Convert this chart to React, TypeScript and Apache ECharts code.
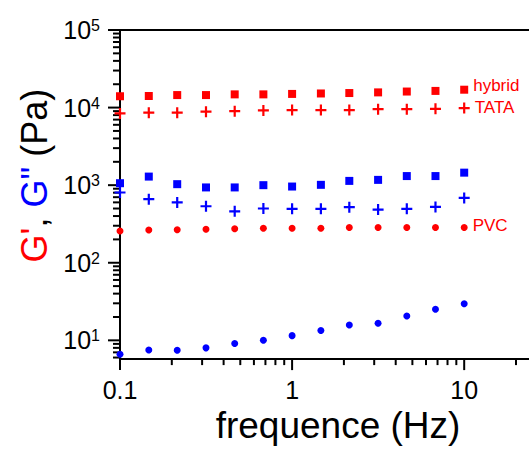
import React, { useEffect, useRef } from "react";
import * as echarts from "echarts";

const freq = [0.1, 0.147, 0.215, 0.316, 0.464, 0.681, 1, 1.47, 2.15, 3.16, 4.64, 6.81, 10];
const hybridG1 = [14000, 14100, 14500, 14500, 14800, 14800, 15000, 15200, 15400, 15700, 16100, 16400, 17000];
const tataG1 = [8400, 8600, 8600, 8850, 9000, 9200, 9300, 9300, 9300, 9550, 9550, 9650, 9850];
const pvcG1 = [257, 265, 267, 270, 275, 278, 278, 278, 285, 285, 285, 285, 285];
const hybridG2 = [1060, 1290, 1030, 935, 935, 1000, 960, 1010, 1135, 1170, 1310, 1310, 1450];
const tataG2 = [805, 660, 600, 535, 460, 500, 495, 495, 520, 485, 495, 525, 685];
const pvcG2 = [6.6, 7.5, 7.45, 8.0, 9.1, 10, 11.5, 13.4, 15.8, 16.6, 20.6, 25.1, 29.6];

const X_MIN = 0.1;
const X_MAX = 23.8;
const Y_MIN = 5.73;
const Y_MAX = 100000;

const xMajorTicks = [0.1, 1, 10];
const xMinorTicks = [0.2, 0.3, 0.4, 0.5, 0.6, 0.7, 0.8, 0.9, 2, 3, 4, 5, 6, 7, 8, 9, 20];
const yMajorTicks = [10, 100, 1000, 10000, 100000];
const yMinorTicks = [
  6, 7, 8, 9,
  20, 30, 40, 50, 60, 70, 80, 90,
  200, 300, 400, 500, 600, 700, 800, 900,
  2000, 3000, 4000, 5000, 6000, 7000, 8000, 9000,
  20000, 30000, 40000, 50000, 60000, 70000, 80000, 90000,
];

const FONT = "Liberation Sans, Arial, sans-serif";
const RED = "#ff0000";
const BLUE = "#0000ff";
const PLUS = "path://M4,0h2v4h4v2h-4v4h-2v-4h-4v-2h4z";

function pairs(ys: number[]) {
  return freq.map((f, i) => [f, ys[i]]);
}

function withEndLabel(ys: number[], text: string, dy: number) {
  const d: any[] = pairs(ys);
  const last = d.length - 1;
  d[last] = {
    value: d[last],
    label: {
      show: true,
      position: "right",
      distance: 5,
      offset: [0, dy],
      formatter: text,
      color: RED,
      fontSize: 17,
      fontFamily: FONT,
    },
  };
  return d;
}

function isPow10(v: number) {
  const l = Math.log10(v);
  return Math.abs(l - Math.round(l)) < 1e-6;
}

export default function App() {
  const ref = useRef<HTMLDivElement>(null);
  useEffect(() => {
    if (!ref.current) return;
    const chart = echarts.init(ref.current, undefined, { renderer: "svg" });
    const tickStyle = { stroke: "#000", lineWidth: 2 };
    const scatterBase = (name: string, symbol: string, size: number, color: string, data: any[]) => ({
      name,
      type: "scatter",
      symbol,
      symbolSize: size,
      itemStyle: { color, opacity: 1 },
      emphasis: { disabled: true },
      data,
    });
    chart.setOption({
      animation: false,
      backgroundColor: "#fff",
      grid: { left: 120, right: 0, top: 30, bottom: 86, containLabel: false },
      xAxis: [
        {
          type: "log",
          logBase: 10,
          min: X_MIN,
          max: X_MAX,
          position: "bottom",
          axisLine: { show: true, onZero: false, lineStyle: { color: "#000", width: 2 } },
          axisTick: { show: false },
          splitLine: { show: false },
          axisLabel: {
            color: "#000",
            fontSize: 25,
            fontFamily: FONT,
            margin: 18,
            showMinLabel: true,
            showMaxLabel: false,
            formatter: (v: number) => (isPow10(v) ? String(Number(v.toPrecision(6))) : ""),
          },
          name: "frequence (Hz)",
          nameLocation: "middle",
          nameGap: 47,
          nameTextStyle: { color: "#000", fontSize: 37, fontFamily: FONT, padding: [0, 0, 0, 27] },
        },
        {
          type: "log",
          logBase: 10,
          min: X_MIN,
          max: X_MAX,
          position: "top",
          axisLine: { show: true, onZero: false, lineStyle: { color: "#000", width: 2 } },
          axisTick: { show: false },
          axisLabel: { show: false },
          splitLine: { show: false },
        },
      ],
      yAxis: {
        type: "log",
        logBase: 10,
        min: Y_MIN,
        max: Y_MAX,
        axisLine: { show: true, onZero: false, lineStyle: { color: "#000", width: 2 } },
        axisTick: { show: false },
        splitLine: { show: false },
        axisLabel: {
          margin: 20,
          showMinLabel: false,
          formatter: (v: number) => (isPow10(v) ? `{b|10}{s|${Math.round(Math.log10(v))}}` : ""),
          rich: {
            b: { fontSize: 25, lineHeight: 25, fontFamily: FONT, color: "#000", verticalAlign: "bottom" },
            s: { fontSize: 16, lineHeight: 16, fontFamily: FONT, color: "#000", verticalAlign: "top" },
          },
        },
        name: "{r|G'}{k|, }{b|G\"}{k| (Pa)}",
        nameLocation: "middle",
        nameRotate: 90,
        nameGap: 62,
        nameTextStyle: {
          padding: [0, 0, 0, 38],
          rich: {
            r: { color: RED, fontSize: 36, fontFamily: FONT },
            b: { color: BLUE, fontSize: 36, fontFamily: FONT },
            k: { color: "#000", fontSize: 36, fontFamily: FONT },
          },
        },
      },
      series: [
        scatterBase("hybrid G'", "rect", 8, RED, withEndLabel(hybridG1, "hybrid", -4)),
        scatterBase("TATA G'", PLUS, 11, RED, withEndLabel(tataG1, "TATA", -1)),
        scatterBase("PVC G'", "circle", 7, RED, withEndLabel(pvcG1, "PVC", -2)),
        scatterBase("hybrid G''", "rect", 8, BLUE, pairs(hybridG2)),
        scatterBase("TATA G''", PLUS, 11, BLUE, pairs(tataG2)),
        scatterBase("PVC G''", "circle", 7, BLUE, pairs(pvcG2)),
        {
          name: "xticks",
          type: "custom",
          silent: true,
          clip: false,
          data: [
            ...xMajorTicks.map((v) => [v, Y_MIN, 1]),
            ...xMinorTicks.map((v) => [v, Y_MIN, 0]),
          ],
          renderItem: (params: any, api: any) => {
            const p = api.coord([api.value(0), Y_MIN]);
            const len = api.value(2) === 1 ? 11 : 6;
            return {
              type: "line",
              shape: { x1: p[0], y1: p[1], x2: p[0], y2: p[1] + len },
              style: tickStyle,
            };
          },
        },
        {
          name: "yticks",
          type: "custom",
          silent: true,
          clip: false,
          data: [
            ...yMajorTicks.map((v) => [X_MIN, v, 1]),
            ...yMinorTicks.map((v) => [X_MIN, v, 0]),
          ],
          renderItem: (params: any, api: any) => {
            const p = api.coord([X_MIN, api.value(1)]);
            const len = api.value(2) === 1 ? 12 : 7;
            return {
              type: "line",
              shape: { x1: p[0], y1: p[1], x2: p[0] - len, y2: p[1] },
              style: tickStyle,
            };
          },
        },
      ],
    });
    return () => chart.dispose();
  }, []);
  return (
    <div
      ref={ref}
      style={{ position: "absolute", left: 0, top: 0, width: 529, height: 449 }}
    />
  );
}
